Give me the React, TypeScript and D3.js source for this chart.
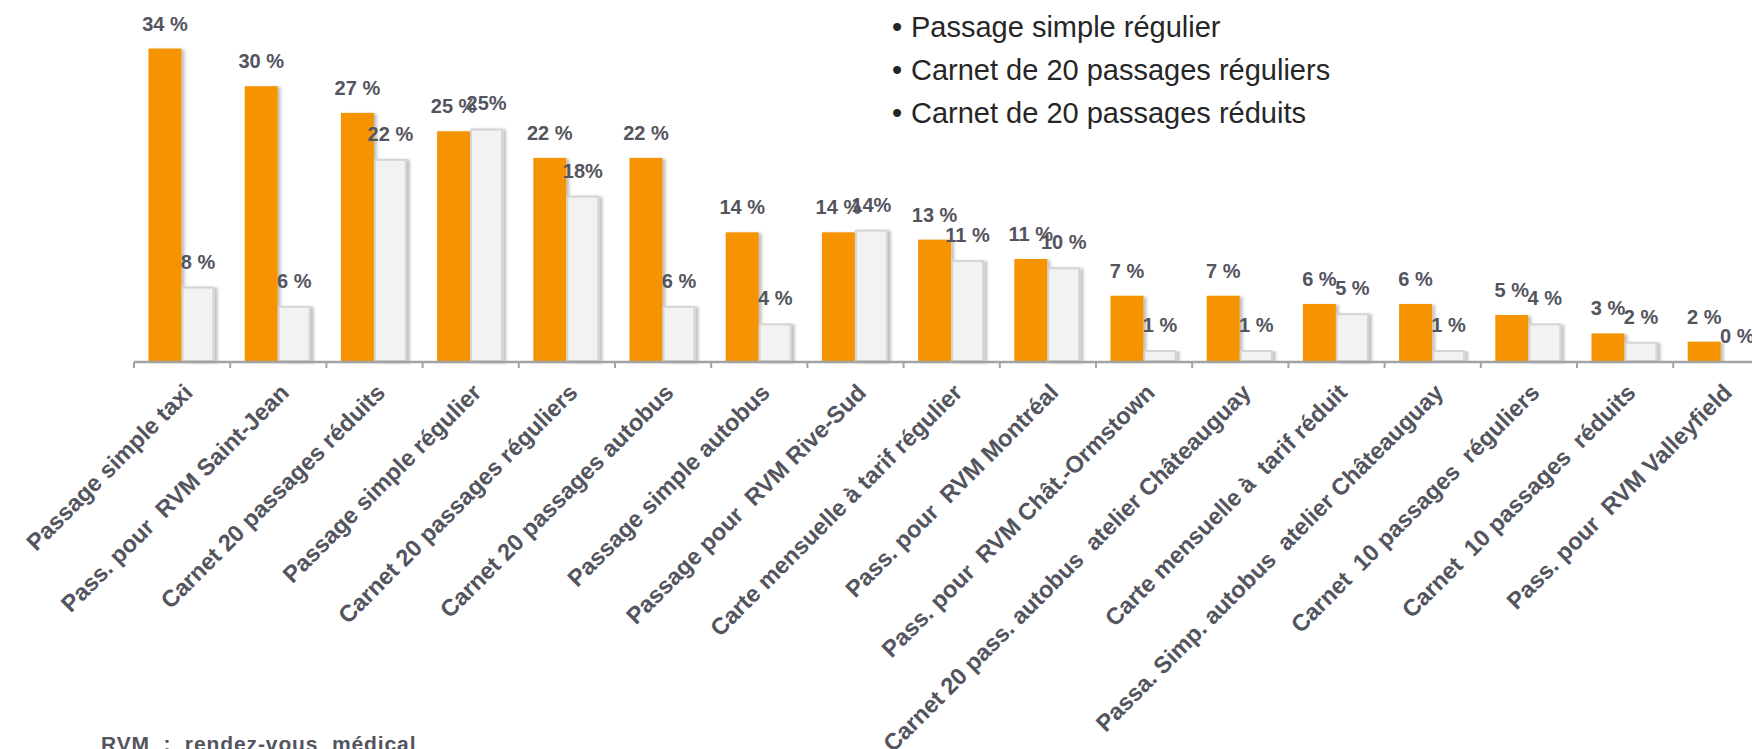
import React from "react";
import * as d3 from "d3";

const categories: string[] = [
  "Passage simple taxi",
  "Pass. pour  RVM Saint-Jean",
  "Carnet 20 passages réduits",
  "Passage simple régulier",
  "Carnet 20 passages réguliers",
  "Carnet 20 passages autobus",
  "Passage simple autobus",
  "Passage pour  RVM Rive-Sud",
  "Carte mensuelle à tarif régulier",
  "Pass. pour  RVM Montréal",
  "Pass. pour  RVM Chât.-Ormstown",
  "Carnet 20 pass. autobus  atelier Châteauguay",
  "Carte mensuelle à  tarif réduit",
  "Passa. Simp. autobus  atelier Châteauguay",
  "Carnet  10 passages  réguliers",
  "Carnet  10 passages  réduits",
  "Pass. pour  RVM Valleyfield",
];

const orangeValues: number[] = [34, 29.9, 27, 25, 22.1, 22.1, 14, 14, 13.2, 11.1, 7.1, 7.1, 6.2, 6.2, 5, 3, 2.1];
const greyValues: number[] = [8.1, 6, 22, 25.3, 18, 6, 4.1, 14.3, 11, 10.2, 1.2, 1.2, 5.2, 1.2, 4.1, 2.1, 0];

const orangeLabels: string[] = ["34 %", "30 %", "27 %", "25 %", "22 %", "22 %", "14 %", "14 %", "13 %", "11 %", "7 %", "7 %", "6 %", "6 %", "5 %", "3 %", "2 %"];
const greyLabels: string[] = ["8 %", "6 %", "22 %", "25%", "18%", "6 %", "4 %", "14%", "11 %", "10 %", "1 %", "1 %", "5 %", "1 %", "4 %", "2 %", "0 %"];

const legendItems: string[] = [
  "Passage simple régulier",
  "Carnet de 20 passages réguliers",
  "Carnet de 20 passages réduits",
];

const footnote = "RVM  :  rendez-vous  médical";

const W = 1752;
const H = 749;
const AXIS_Y = 361;
const FONT = "'Liberation Sans', Arial, Helvetica, sans-serif";

export default function App() {
  const x = d3.scaleBand<string>().domain(categories).range([134, 134 + 17 * 96.2]).padding(0);
  const inner = d3.scaleBand<string>().domain(["o", "g"]).range([14.5, 80.5]).padding(0);
  const y = d3.scaleLinear().domain([0, 36]).range([AXIS_Y, AXIS_Y - 36 * 9.19]);

  const bw = x.bandwidth();
  const ticks = d3.range(categories.length + 1).map((i) => 134 + i * bw);

  return (
    <svg
      width={W}
      height={H}
      viewBox={`0 0 ${W} ${H}`}
      style={{ position: "absolute", left: 0, top: 0, display: "block", background: "#fff" }}
    >
      <defs>
        <filter id="shadow" x="-20%" y="-5%" width="150%" height="115%">
          <feGaussianBlur in="SourceAlpha" stdDeviation="1.5" />
          <feOffset dx="2.5" dy="1" result="off" />
          <feComponentTransfer>
            <feFuncA type="linear" slope="0.25" />
          </feComponentTransfer>
          <feMerge>
            <feMergeNode />
            <feMergeNode in="SourceGraphic" />
          </feMerge>
        </filter>
      </defs>

      {/* bars */}
      {categories.map((c, i) => {
        const x0 = x(c)!;
        const ov = orangeValues[i];
        const gv = greyValues[i];
        return (
          <g key={c}>
            {ov > 0 && (
              <rect
                x={x0 + inner("o")!}
                y={y(ov)}
                width={inner.bandwidth()}
                height={AXIS_Y - y(ov)}
                fill="#F59300"
                filter="url(#shadow)"
              />
            )}
            {gv > 0 && (
              <rect
                x={x0 + inner("g")! + 1}
                y={y(gv) + 1}
                width={inner.bandwidth() - 2}
                height={AXIS_Y - y(gv) - 1}
                fill="#F2F2F2"
                stroke="#D4D4D4"
                strokeWidth={2}
                filter="url(#shadow)"
              />
            )}
          </g>
        );
      })}

      {/* axis */}
      <line x1={134} x2={W + 20} y1={AXIS_Y + 1} y2={AXIS_Y + 1} stroke="#A3A3A3" strokeWidth={2.5} />
      {ticks.map((t, i) => (
        <line key={i} x1={t} x2={t} y1={AXIS_Y + 1} y2={AXIS_Y + 7} stroke="#A3A3A3" strokeWidth={2} />
      ))}

      {/* value labels */}
      {categories.map((c, i) => {
        const x0 = x(c)!;
        const cxO = x0 + inner("o")! + inner.bandwidth() / 2;
        const cxG = x0 + inner("g")! + inner.bandwidth() / 2;
        return (
          <g key={"lab" + c} fontFamily={FONT} fontWeight="bold" fontSize={20} fill="#53545E" textAnchor="middle">
            <text x={cxO} y={y(orangeValues[i]) - 18} style={{ whiteSpace: "pre" }}>{orangeLabels[i]}</text>
            <text x={cxG} y={y(greyValues[i]) - 18} style={{ whiteSpace: "pre" }}>{greyLabels[i]}</text>
          </g>
        );
      })}

      {/* category labels */}
      {categories.map((c) => {
        const cx = x(c)! + bw / 2;
        return (
          <text
            key={"cat" + c}
            transform={`translate(${cx + 12},${AXIS_Y + 33}) rotate(-45)`}
            textAnchor="end"
            fontFamily={FONT}
            fontWeight="bold"
            fontSize={23.5}
            fill="#53545E"
            style={{ whiteSpace: "pre" }}
          >
            {c}
          </text>
        );
      })}

      {/* legend */}
      {legendItems.map((t, i) => (
        <g key={t} fontFamily={FONT} fontSize={29} fill="#262626">
          <text x={892} y={37 + i * 43}>•</text>
          <text x={911} y={37 + i * 43}>{t}</text>
        </g>
      ))}

      {/* footnote */}
      <text
        x={101}
        y={751}
        fontFamily={FONT}
        fontWeight="bold"
        fontSize={21}
        fill="#53545E"
        letterSpacing={0.9}
        style={{ whiteSpace: "pre" }}
      >
        {footnote}
      </text>
    </svg>
  );
}
